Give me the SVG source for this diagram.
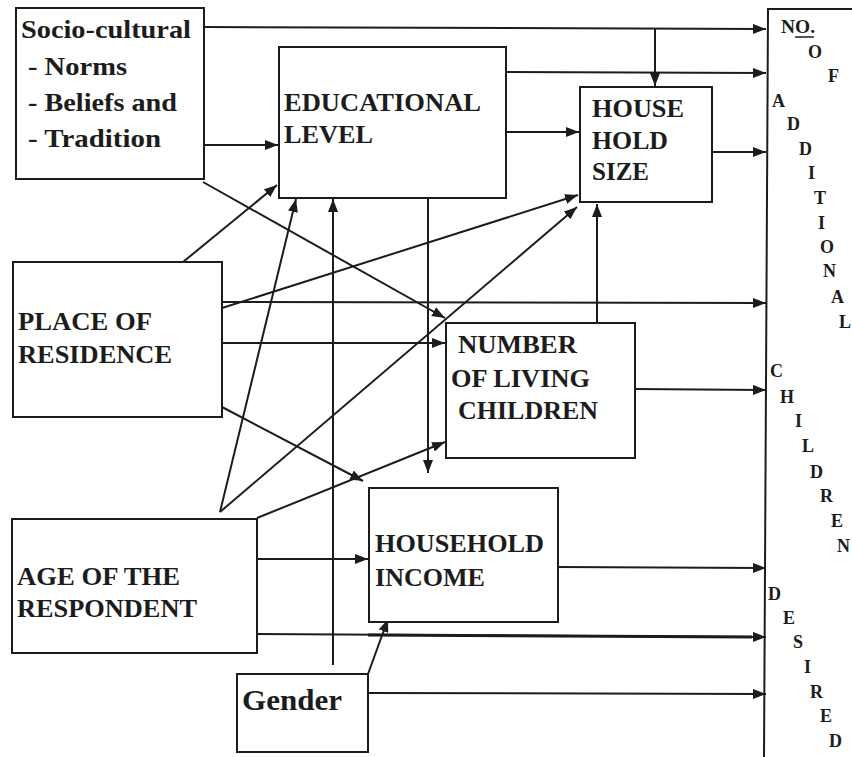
<svg xmlns="http://www.w3.org/2000/svg" width="852" height="757" viewBox="0 0 852 757">
<defs>
<marker id="ah" markerUnits="userSpaceOnUse" markerWidth="13" markerHeight="10" refX="13" refY="5" orient="auto">
<path d="M0,0 L13,5 L0,10 z" fill="#1c1c1c"/>
</marker>
</defs>
<style>
.box{fill:#fff;stroke:#1c1c1c;stroke-width:2}
text{fill:#1c1c1c;font-family:"Liberation Serif","DejaVu Serif","Noto Serif",serif;font-weight:bold}
.t{font-size:25px}
.s{font-size:26px}
.l{font-size:18px}
.c line{stroke:#1c1c1c;stroke-width:2;fill:none}
.a{marker-end:url(#ah)}
</style>
<rect width="852" height="757" fill="#fff"/>
<g id="connectors" class="c">
<line x1="204" y1="27" x2="766" y2="29" class="a"/>
<line x1="655" y1="28" x2="655" y2="86" class="a"/>
<line x1="506" y1="72" x2="766" y2="73" class="a"/>
<line x1="506" y1="132" x2="579" y2="132" class="a"/>
<line x1="712" y1="152" x2="766" y2="152" class="a"/>
<line x1="204" y1="145" x2="278" y2="145" class="a"/>
<line x1="203" y1="182" x2="445" y2="318" class="a"/>
<line x1="183" y1="262" x2="277" y2="185" class="a"/>
<line x1="222" y1="308" x2="578" y2="195" class="a"/>
<line x1="222" y1="302" x2="766" y2="303" class="a"/>
<line x1="222" y1="343" x2="445" y2="343" class="a"/>
<line x1="222" y1="407" x2="363" y2="481" class="a"/>
<line x1="220" y1="512" x2="296" y2="199" class="a"/>
<line x1="220" y1="512" x2="577" y2="207" class="a"/>
<line x1="333" y1="665" x2="333" y2="199" class="a"/>
<line x1="428" y1="199" x2="428" y2="473" class="a"/>
<line x1="257" y1="518" x2="445" y2="442" class="a"/>
<line x1="257" y1="559" x2="368" y2="559" class="a"/>
<line x1="257" y1="634" x2="766" y2="637" class="a"/>
<line x1="368" y1="635" x2="752" y2="637" style="stroke-width:3"/>
<line x1="558" y1="567" x2="766" y2="568" class="a"/>
<line x1="368" y1="674" x2="388" y2="619" class="a"/>
<line x1="368" y1="693" x2="766" y2="694" class="a"/>
<line x1="597" y1="323" x2="597" y2="204" class="a"/>
<line x1="635" y1="389" x2="766" y2="390" class="a"/>
</g>
<g id="socio">
<rect class="box" x="16" y="8" width="188" height="171"/>
<text class="s" x="21" y="38" textLength="170" lengthAdjust="spacingAndGlyphs">Socio-cultural</text>
<text class="s" x="28" y="75" textLength="99" lengthAdjust="spacingAndGlyphs">- Norms</text>
<text class="s" x="28" y="111" textLength="149" lengthAdjust="spacingAndGlyphs">- Beliefs and</text>
<text class="s" x="28" y="147" textLength="133" lengthAdjust="spacingAndGlyphs">- Tradition</text>
</g>
<g id="education">
<rect class="box" x="279" y="47" width="227" height="151"/>
<text class="t" x="284" y="111" textLength="197" lengthAdjust="spacingAndGlyphs">EDUCATIONAL</text>
<text class="t" x="284" y="143" textLength="89" lengthAdjust="spacingAndGlyphs">LEVEL</text>
</g>
<g id="household-size">
<rect class="box" x="580" y="87" width="132" height="115"/>
<text class="t" x="592" y="117" textLength="92" lengthAdjust="spacingAndGlyphs">HOUSE</text>
<text class="t" x="592" y="149" textLength="76" lengthAdjust="spacingAndGlyphs">HOLD</text>
<text class="t" x="592" y="180" textLength="57" lengthAdjust="spacingAndGlyphs">SIZE</text>
</g>
<g id="residence">
<rect class="box" x="13" y="262" width="209" height="155"/>
<text class="t" x="18" y="330" textLength="134" lengthAdjust="spacingAndGlyphs">PLACE OF</text>
<text class="t" x="18" y="363" textLength="154" lengthAdjust="spacingAndGlyphs">RESIDENCE</text>
</g>
<g id="living-children">
<rect class="box" x="446" y="323" width="189" height="135"/>
<text class="t" x="458" y="353" textLength="119" lengthAdjust="spacingAndGlyphs">NUMBER</text>
<text class="t" x="451" y="387" textLength="139" lengthAdjust="spacingAndGlyphs">OF LIVING</text>
<text class="t" x="458" y="419" textLength="140" lengthAdjust="spacingAndGlyphs">CHILDREN</text>
</g>
<g id="age">
<rect class="box" x="12" y="519" width="245" height="134"/>
<text class="t" x="17" y="585" textLength="163" lengthAdjust="spacingAndGlyphs">AGE OF THE</text>
<text class="t" x="17" y="617" textLength="180" lengthAdjust="spacingAndGlyphs">RESPONDENT</text>
</g>
<g id="income">
<rect class="box" x="369" y="488" width="189" height="134"/>
<text class="t" x="375" y="552" textLength="169" lengthAdjust="spacingAndGlyphs">HOUSEHOLD</text>
<text class="t" x="375" y="586" textLength="110" lengthAdjust="spacingAndGlyphs">INCOME</text>
</g>
<g id="gender">
<rect class="box" x="237" y="674" width="131" height="78"/>
<text class="t" x="242" y="710" style="font-size:30px" textLength="100" lengthAdjust="spacingAndGlyphs">Gender</text>
</g>
<g id="outcome">
<path d="M852,9 H768 L764,757" fill="none" stroke="#1c1c1c" stroke-width="2"/>
<text class="l" x="781" y="33" textLength="34" lengthAdjust="spacingAndGlyphs">NO.</text>
<line x1="795" y1="37" x2="814" y2="37" stroke="#1c1c1c" stroke-width="1.5"/>
<text class="l" x="808" y="58">O</text>
<text class="l" x="828" y="82">F</text>
<text class="l" x="772" y="107">A</text>
<text class="l" x="787" y="130">D</text>
<text class="l" x="799" y="155">D</text>
<text class="l" x="808" y="179">I</text>
<text class="l" x="814" y="204">T</text>
<text class="l" x="818" y="229">I</text>
<text class="l" x="820" y="253">O</text>
<text class="l" x="823" y="277">N</text>
<text class="l" x="831" y="303">A</text>
<text class="l" x="839" y="328">L</text>
<text class="l" x="770" y="377">C</text>
<text class="l" x="780" y="403">H</text>
<text class="l" x="795" y="427">I</text>
<text class="l" x="802" y="452">L</text>
<text class="l" x="810" y="478">D</text>
<text class="l" x="820" y="502">R</text>
<text class="l" x="831" y="527">E</text>
<text class="l" x="837" y="552">N</text>
<text class="l" x="768" y="600">D</text>
<text class="l" x="783" y="624">E</text>
<text class="l" x="793" y="648">S</text>
<text class="l" x="804" y="673">I</text>
<text class="l" x="810" y="698">R</text>
<text class="l" x="820" y="722">E</text>
<text class="l" x="829" y="747">D</text>
</g>
</svg>
